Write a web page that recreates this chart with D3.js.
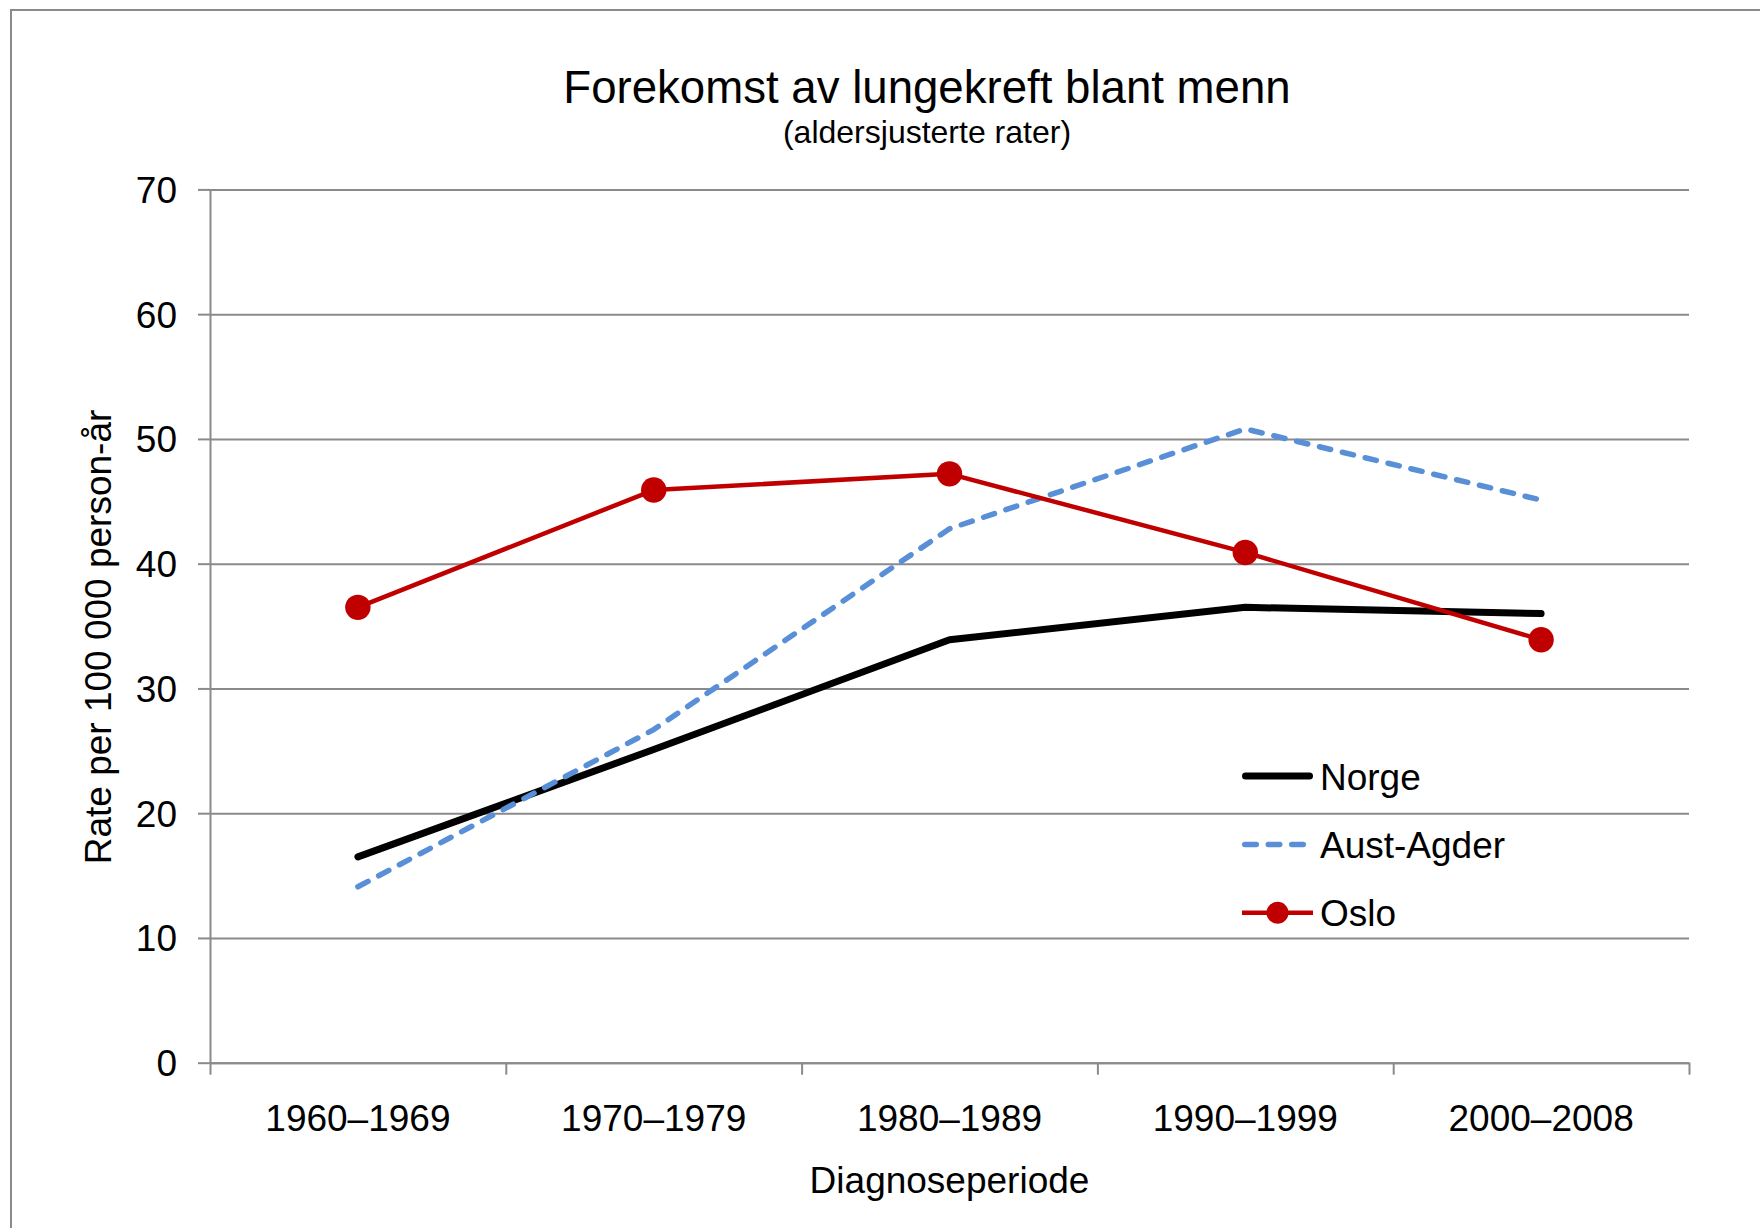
<!DOCTYPE html>
<html>
<head>
<meta charset="utf-8">
<script src="https://cdn.jsdelivr.net/npm/d3@7"></script>
<style>
    body { margin: 0; background: #fff; }
    svg { display: block; font-family: "Liberation Sans", Arial, sans-serif; }
    .axis path, .axis line { stroke: #8a8a8a; stroke-width: 2; }
    .grid line { stroke: #8a8a8a; stroke-width: 2; }
    .grid path { display: none; }
    .axis text { fill: #000; font-size: 37px; }
</style>
</head>
<body>
<div id="chart"></div>
<script>
// periods on the x axis
var periods = ["1960–1969", "1970–1979", "1980–1989", "1990–1999", "2000–2008"];
// rates per 100 000 person-years
var norge = [16.5, 25.1, 33.9, 36.5, 36.0];
var austAgder = [14.1, 26.7, 42.8, 50.8, 45.1];
var oslo = [36.5, 45.9, 47.2, 40.9, 33.9];
var yTicks = [0, 10, 20, 30, 40, 50, 60, 70];
var seriesNames = ["Norge", "Aust-Agder", "Oslo"];

var width = 1760, height = 1228;
var margin = {top: 189.4, right: 71, bottom: 165.3, left: 210};
var plotW = width - margin.left - margin.right;
var plotH = height - margin.top - margin.bottom;

var svg = d3.select("#chart").append("svg")
    .attr("width", width)
    .attr("height", height);

// outer chart frame (runs off the right and bottom edge)
svg.append("rect")
    .attr("x", 11).attr("y", 10)
    .attr("width", width + 20).attr("height", height + 20)
    .attr("fill", "none")
    .attr("stroke", "#8a8a8a")
    .attr("stroke-width", 2);

svg.append("text")
    .attr("x", 927).attr("y", 103)
    .attr("text-anchor", "middle")
    .attr("font-size", "45.6px")
    .text("Forekomst av lungekreft blant menn");

svg.append("text")
    .attr("x", 927).attr("y", 143)
    .attr("text-anchor", "middle")
    .attr("font-size", "32px")
    .text("(aldersjusterte rater)");

var g = svg.append("g")
    .attr("transform", "translate(" + margin.left + "," + margin.top + ")");

var xScale = d3.scaleBand()
    .domain(periods)
    .range([0, plotW]);

var xEdge = d3.scaleLinear()
    .domain([0, periods.length])
    .range([0, plotW]);

var yScale = d3.scaleLinear()
    .domain([0, 70])
    .range([plotH, 0]);

function cx(i) { return xScale(periods[i]) + xScale.bandwidth() / 2; }

// gridlines
g.append("g")
    .attr("class", "grid")
    .call(d3.axisLeft(yScale).tickValues(yTicks).tickSize(-plotW).tickFormat(""));

// y axis
var yAxis = g.append("g")
    .attr("class", "axis")
    .call(d3.axisLeft(yScale).tickValues(yTicks).tickSize(12).tickSizeOuter(0).tickPadding(21));
yAxis.selectAll("text").attr("dy", "0.35em");

// x axis: ticks on the band edges, labels in the middle of each band
g.append("g")
    .attr("class", "axis")
    .attr("transform", "translate(0," + plotH + ")")
    .call(d3.axisBottom(xEdge).tickValues(d3.range(periods.length + 1)).tickSize(12).tickSizeOuter(0).tickFormat(""));

var xLabels = g.append("g")
    .attr("class", "axis")
    .attr("transform", "translate(0," + plotH + ")")
    .call(d3.axisBottom(xScale).tickSize(0).tickSizeOuter(0));
xLabels.select("path").remove();
xLabels.selectAll("text").attr("y", 68).attr("dy", 0);

svg.append("text")
    .attr("x", margin.left + plotW / 2).attr("y", 1193)
    .attr("text-anchor", "middle")
    .attr("font-size", "37px")
    .text("Diagnoseperiode");

svg.append("text")
    .attr("transform", "translate(111,637) rotate(-90)")
    .attr("text-anchor", "middle")
    .attr("font-size", "37px")
    .text("Rate per 100 000 person-år");

var line = d3.line()
    .x(function (d, i) { return cx(i); })
    .y(function (d) { return yScale(d); });

g.append("path")
    .datum(norge)
    .attr("d", line)
    .attr("fill", "none")
    .attr("stroke", "#000")
    .attr("stroke-width", 7)
    .attr("stroke-linecap", "round")
    .attr("stroke-linejoin", "round");

g.append("path")
    .datum(austAgder)
    .attr("d", line)
    .attr("fill", "none")
    .attr("stroke", "#588fd6")
    .attr("stroke-width", 5.5)
    .attr("stroke-dasharray", "11.5 12")
    .attr("stroke-linecap", "round")
    .attr("stroke-linejoin", "round");

g.append("path")
    .datum(oslo)
    .attr("d", line)
    .attr("fill", "none")
    .attr("stroke", "#c00000")
    .attr("stroke-width", 4.5)
    .attr("stroke-linejoin", "round");

g.selectAll(".osloDot")
    .data(oslo)
    .enter().append("circle")
    .attr("class", "osloDot")
    .attr("cx", function (d, i) { return cx(i); })
    .attr("cy", function (d) { return yScale(d); })
    .attr("r", 12.7)
    .attr("fill", "#c00000");

// legend
var legend = svg.append("g").attr("transform", "translate(1242,776)");
var legendItems = legend.selectAll(".legendItem")
    .data(seriesNames)
    .enter().append("g")
    .attr("class", "legendItem")
    .attr("transform", function (d, i) { return "translate(0," + (i * 68.4) + ")"; });

legendItems.append("line")
    .attr("x1", function (d, i) { return i == 0 ? 3.5 : (i == 1 ? 2.75 : 0); })
    .attr("x2", function (d, i) { return i == 0 ? 67.5 : (i == 1 ? 64 : 71); })
    .attr("stroke", function (d, i) { return ["#000", "#588fd6", "#c00000"][i]; })
    .attr("stroke-width", function (d, i) { return [7, 5.5, 4.5][i]; })
    .attr("stroke-dasharray", function (d, i) { return i == 1 ? "11.5 12" : null; })
    .attr("stroke-linecap", function (d, i) { return i == 2 ? "butt" : "round"; });

legendItems.filter(function (d, i) { return i == 2; })
    .append("circle")
    .attr("cx", 35.5)
    .attr("r", 11)
    .attr("fill", "#c00000");

legendItems.append("text")
    .attr("x", 78)
    .attr("y", 13.5)
    .attr("font-size", "37px")
    .text(function (d) { return d; });
</script>
</body>
</html>
